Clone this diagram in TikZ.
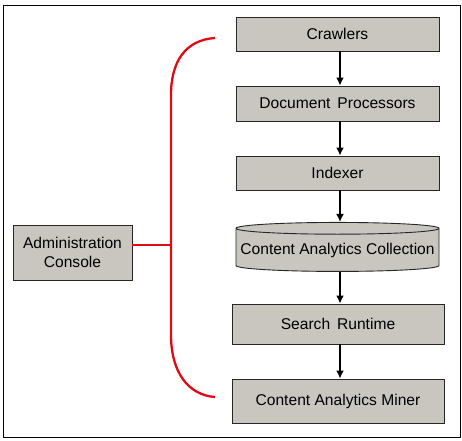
\documentclass[tikz,border=0pt]{standalone}
\usepackage{fontspec}
\setmainfont{Liberation Sans}
\usepackage{tikz}
\usepackage{xcolor}
\usetikzlibrary{shapes.geometric,arrows.meta}
\definecolor{box-gray}{RGB}{200,198,191}
\definecolor{bracket-red}{RGB}{225,10,20}
\tikzset{
    gray-box/.style = {draw=black!85, fill=box-gray, line width=0.9pt, rectangle, inner sep=1pt, font=\fontsize{15.6}{18.5}\selectfont},
    store-box/.style = {gray-box, cylinder, shape border rotate=90, aspect=0.06, inner sep=1pt},
    flow-arrow/.style = {-{Latex[length=8pt,width=8pt]}, line width=1.9pt, black},
    red-bracket/.style = {draw=bracket-red, line width=2.3pt},
}

\begin{document}
\begin{tikzpicture}[x=1pt,y=-1pt]
\useasboundingbox (0,0) rectangle (462,440);
\draw[line width=1pt] (3,5) rectangle (460,437);

\node[gray-box, minimum width=203pt, minimum height=34pt] (crawlers) at (337.5,34) {Crawlers};
\node[gray-box, minimum width=203pt, minimum height=35pt] (docproc) at (337.5,103.5) {Document\, Processors};
\node[gray-box, minimum width=203pt, minimum height=34pt] (indexer) at (337.5,173) {Indexer};
\node[store-box, minimum width=203pt, minimum height=49pt] (collection) at (337.5,250.5) {Content Analytics Collection};
\node[gray-box, minimum width=212pt, minimum height=40pt] (runtime) at (338,324) {Search\, Runtime};
\node[gray-box, minimum width=212pt, minimum height=44pt] (miner) at (338,401) {Content Analytics Miner};
\node[gray-box, minimum width=119pt, minimum height=55pt, align=center] (admin) at (72.5,252.5) {Administration\\Console};

% pipeline
\draw[flow-arrow] ([xshift=2.5pt]crawlers.south) -- ([xshift=2.5pt]docproc.north);
\draw[flow-arrow] ([xshift=2.5pt]docproc.south) -- ([xshift=2.5pt]indexer.north);
\draw[flow-arrow] ([xshift=2.5pt]indexer.south) -- ([xshift=2.5pt]collection.top);
\draw[flow-arrow] ([xshift=2.5pt]collection.bottom) -- ([xshift=2pt]runtime.north);
\draw[flow-arrow] ([xshift=2pt]runtime.south) -- ([xshift=2pt]miner.north);

% console bracket
\coordinate (bracket-top) at (215,38);
\coordinate (bracket-mid) at (171,245);
\coordinate (bracket-bot) at (215,397);
\draw[red-bracket] (bracket-top) .. controls (185,40) and (171,62) .. (171,95) -- (171,335)
    .. controls (171,372) and (188,395) .. (bracket-bot);
\draw[red-bracket, line width=1.8pt] (admin.east |- bracket-mid) -- (bracket-mid);
\end{tikzpicture}
\end{document}
